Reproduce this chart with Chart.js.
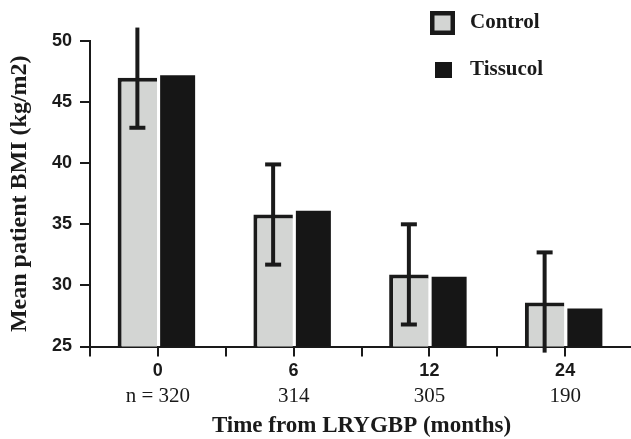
<!DOCTYPE html>
<html>
<head>
<meta charset="utf-8">
<script src="https://cdn.jsdelivr.net/npm/chart.js@4"></script>
<style>
  html, body { margin: 0; padding: 0; overflow: hidden; background: #fff; }
</style>
</head>
<body>
<canvas id="myChart" width="636" height="439"></canvas>
<script>
const months = ['0', '6', '12', '24'];
const nLabels = ['n = 320', '314', '305', '190'];
const control = [47.0, 35.8, 30.9, 28.6];
const controlSd = [4.1, 4.1, 4.1, 4.1];
const tissucol = [47.2, 36.1, 30.7, 28.1];
const yTicks = [25, 30, 35, 40, 45, 50];

const ink = '#1a1a1a';
const grey = '#d3d5d3';
const sans = 'Liberation Sans, Arial, sans-serif';
const serif = 'Liberation Serif, Times New Roman, serif';

// error bars on the control bars; no cap where the bar runs off the axis
const errorBars = {
  id: 'errorBars',
  afterDatasetsDraw(chart) {
    const ctx = chart.ctx;
    const y = chart.scales.y;
    const meta = chart.getDatasetMeta(0);
    ctx.save();
    ctx.strokeStyle = ink;
    ctx.lineWidth = 4;
    meta.data.forEach((bar, i) => {
      const hi = control[i] + controlSd[i];
      const lo = control[i] - controlSd[i];
      const yHi = y.getPixelForValue(hi);
      const yLo = y.getPixelForValue(lo);
      ctx.beginPath();
      ctx.moveTo(bar.x, yHi);
      ctx.lineTo(bar.x, yLo);
      ctx.stroke();
      [[hi, yHi], [lo, yLo]].forEach(([v, py]) => {
        if (v >= y.min && v <= y.max) {
          ctx.beginPath();
          ctx.moveTo(bar.x - 8, py);
          ctx.lineTo(bar.x + 8, py);
          ctx.stroke();
        }
      });
    });
    ctx.restore();
  }
};

// short ticks under each category centre
const centreTicks = {
  id: 'centreTicks',
  afterDraw(chart) {
    const ctx = chart.ctx;
    const x = chart.scales.x;
    const bottom = chart.chartArea.bottom;
    ctx.save();
    ctx.strokeStyle = ink;
    ctx.lineWidth = 2;
    months.forEach((m, i) => {
      const px = Math.round(x.getPixelForValue(i));
      ctx.beginPath();
      ctx.moveTo(px, bottom);
      ctx.lineTo(px, bottom + 10);
      ctx.stroke();
    });
    ctx.restore();
  }
};

const legendBoxes = {
  id: 'legendBoxes',
  afterDraw(chart) {
    const ctx = chart.ctx;
    ctx.save();
    ctx.fillStyle = ink;
    ctx.fillRect(430, 11, 25, 24);
    ctx.fillStyle = grey;
    ctx.fillRect(434.5, 15.5, 16, 15);
    ctx.fillStyle = '#161616';
    ctx.fillRect(435, 62, 17, 16);
    ctx.fillStyle = ink;
    ctx.font = 'bold 21px ' + serif;
    ctx.textBaseline = 'middle';
    ctx.fillText(chart.data.datasets[0].label, 470, 23);
    ctx.fillText(chart.data.datasets[1].label, 470, 70);
    ctx.restore();
  }
};

const ctx = document.getElementById('myChart').getContext('2d');
const myChart = new Chart(ctx, {
  type: 'bar',
  data: {
    labels: months,
    datasets: [
      {
        label: 'Control',
        data: control,
        backgroundColor: grey,
        borderColor: ink,
        borderWidth: { left: 4, top: 4, bottom: 4, right: 0 },
        borderSkipped: false,
        categoryPercentage: 0.604,
        barPercentage: 0.963,
      },
      {
        label: 'Tissucol',
        data: tissucol,
        backgroundColor: '#161616',
        borderWidth: 0,
        categoryPercentage: 0.582,
        barPercentage: 0.886,
      },
    ],
  },
  options: {
    responsive: false,
    animation: false,
    layout: { padding: { top: 41, right: 3, left: 0, bottom: 0 } },
    plugins: {
      legend: { display: false },
      tooltip: { enabled: false },
    },
    scales: {
      x: {
        weight: 0,
        offset: true,
        grid: { drawOnChartArea: false, offset: true, color: ink, lineWidth: 2, tickLength: 10 },
        border: { color: ink, width: 2 },
        ticks: { color: ink, padding: 4, font: { family: sans, size: 18, weight: 'bold' } },
        afterFit: (s) => { s.height = 36; },
      },
      x2: {
        type: 'category',
        position: 'bottom',
        weight: 1,
        offset: true,
        labels: nLabels,
        grid: { display: false, drawTicks: false },
        border: { display: false },
        ticks: { color: ink, padding: 1, font: { family: serif, size: 21 } },
        title: {
          display: true,
          text: 'Time from LRYGBP (months)',
          color: ink,
          font: { family: serif, size: 23, weight: 'bold', lineHeight: 1 },
          padding: { top: 0, bottom: 1 },
        },
        afterFit: (s) => { s.height = 56.5; },
      },
      y: {
        min: yTicks[0],
        max: yTicks[yTicks.length - 1],
        afterBuildTicks: (s) => { s.ticks = yTicks.map((v) => ({ value: v })); },
        grid: { drawOnChartArea: false, color: ink, lineWidth: 2, tickLength: 10 },
        border: { color: ink, width: 2 },
        ticks: { color: ink, padding: 8, font: { family: sans, size: 18, weight: 'bold' } },
        title: {
          display: true,
          text: 'Mean patient BMI (kg/m2)',
          color: ink,
          font: { family: serif, size: 24, weight: 'bold', lineHeight: 1 },
          padding: { top: 8, bottom: 0 },
        },
        afterFit: (s) => { s.width = 90; },
      },
    },
  },
  plugins: [errorBars, centreTicks, legendBoxes],
});
</script>
</body>
</html>
